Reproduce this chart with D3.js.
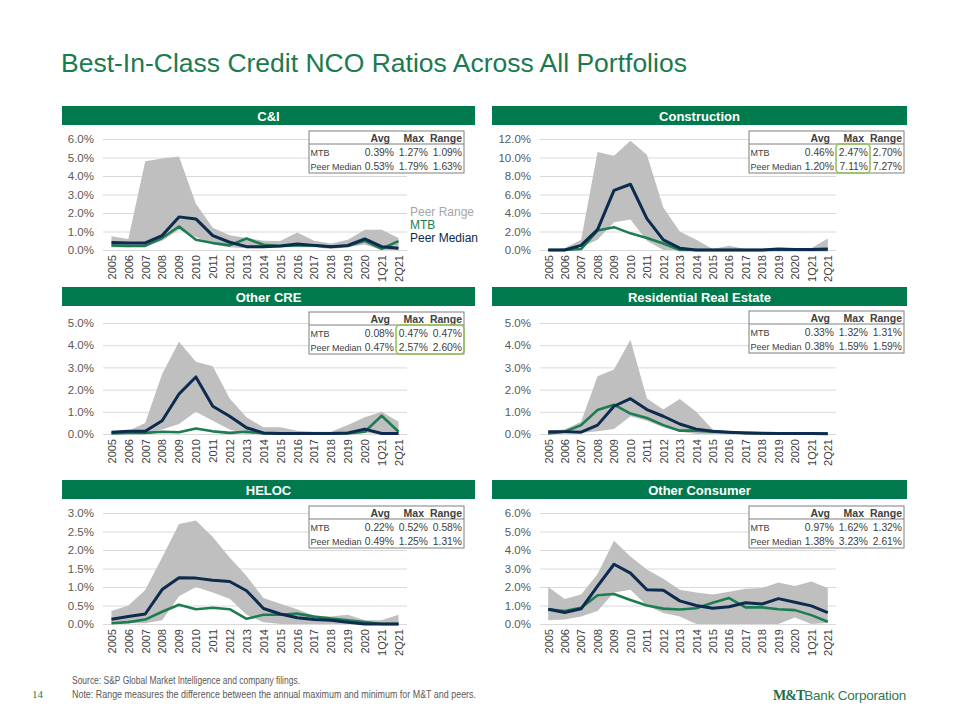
<!doctype html>
<html>
<head>
<meta charset="utf-8"/>
<title>Best-In-Class Credit NCO Ratios</title>
<script src="https://d3js.org/d3.v7.min.js"></script>
<style>
  body { margin:0; background:#fff; }
  svg { font-family: "Liberation Sans", Arial, sans-serif; }
</style>
</head>
<body>
<script>
// categories (x axis)
const cats = ['2005','2006','2007','2008','2009','2010','2011','2012','2013','2014','2015','2016','2017','2018','2019','2020','1Q21','2Q21'];

// C&I
const ciTop  = [0.75,0.6,4.8,4.95,5.05,2.5,1.2,0.8,0.65,0.5,0.48,0.95,0.5,0.35,0.55,1.1,1.1,0.65];
const ciBot  = [0.15,0.15,0.2,0.5,1.1,0.7,0.3,0.15,0.1,0.1,0.15,0.15,0.15,0.05,0.15,0.3,0.0,0.0];
const ciMtb  = [0.25,0.22,0.22,0.65,1.27,0.55,0.38,0.25,0.62,0.28,0.22,0.25,0.25,0.18,0.22,0.5,0.07,0.48];
const ciPeer = [0.4,0.38,0.38,0.78,1.79,1.68,0.78,0.42,0.18,0.18,0.22,0.32,0.25,0.18,0.25,0.6,0.18,0.1];
// Construction
const conTop  = [0.0,0.2,1.1,10.6,10.2,11.8,10.3,4.6,2.0,1.1,0.1,0.45,0.1,0.05,0.1,0.05,0.2,1.25];
const conBot  = [0,0,0.3,1.1,3.0,3.3,1.0,0,0,0,0,0,0,0,0,0,0,0];
const conMtb  = [0,0,0.1,2.1,2.47,1.8,1.3,0.7,0,0,0,0,0,0,0,0,0,0];
const conPeer = [0,0,0.5,2.2,6.45,7.11,3.4,1.1,0.2,0,0,0,0,0,0.1,0.05,0.05,0.1];
// Other CRE
const creTop  = [0.1,0.15,0.5,2.7,4.15,3.25,3.05,1.6,0.75,0.3,0.3,0.15,0.1,0.1,0.4,0.75,1.0,0.55];
const creBot  = [0,0,0.05,0.2,0.45,1.0,0.6,0.2,0,0,0,0,0,0,0,0.05,0,0];
const creMtb  = [0.02,0.05,0.05,0.1,0.08,0.25,0.12,0.05,0.1,0.02,0.02,0.02,0.02,0.02,0.02,0.1,0.82,0.1];
const crePeer = [0.08,0.12,0.12,0.6,1.8,2.57,1.25,0.8,0.28,0.05,0.02,0.02,0.02,0.02,0.05,0.22,0.02,0.02];
// Residential Real Estate
const resTop  = [0.15,0.2,0.55,2.6,2.9,4.25,1.6,1.1,1.58,1.0,0.2,0.12,0.05,0.03,0.02,0.02,0.02,0.02];
const resBot  = [0,0.05,0.05,0.12,0.22,0.8,0.6,0.3,0.1,0,0,0,0,0,0,0,0,0];
const resMtb  = [0.02,0.1,0.4,1.08,1.32,0.92,0.72,0.4,0.15,0.15,0.1,0.08,0.05,0.03,0.02,0.02,0.02,0.02];
const resPeer = [0.1,0.1,0.08,0.4,1.25,1.59,1.1,0.8,0.45,0.22,0.12,0.08,0.05,0.03,0.02,0.02,0.02,0.01];
// HELOC
const helTop  = [0.35,0.5,0.92,1.8,2.7,2.8,2.35,1.8,1.3,0.7,0.55,0.4,0.22,0.2,0.25,0.1,0.1,0.25];
const helBot  = [0.02,0.02,0.02,0.1,0.75,1.0,0.85,0.68,0.25,0.05,0,0,0,0,0,0,0,0];
const helMtb  = [0.02,0.05,0.12,0.33,0.52,0.4,0.44,0.4,0.14,0.25,0.25,0.28,0.2,0.15,0.1,0.05,0,0];
const helPeer = [0.13,0.2,0.27,0.93,1.25,1.24,1.18,1.15,0.9,0.42,0.27,0.17,0.12,0.1,0.05,0,0,0];
// Other Consumer
const ocTop  = [2.0,1.35,1.6,2.7,4.5,3.65,2.95,2.45,1.85,1.7,1.6,1.75,1.9,1.95,2.25,2.05,2.3,1.95];
const ocBot  = [0.2,0.25,0.4,0.7,1.7,1.85,1.0,0.6,0.4,0,0,0,0,0,0,0.35,0,0.05];
const ocMtb  = [0.8,0.7,0.88,1.55,1.62,1.3,1.0,0.83,0.78,0.85,1.15,1.4,0.9,0.9,0.8,0.75,0.48,0.12];
const ocPeer = [0.8,0.62,0.82,2.05,3.23,2.75,1.85,1.82,1.25,1.0,0.85,0.93,1.15,1.08,1.37,1.18,0.98,0.62];

// summary tables: [label, avg, max, range]
const tblHead = ['', 'Avg', 'Max', 'Range'];
const ciTbl  = [['MTB','0.39%','1.27%','1.09%'],['Peer Median','0.53%','1.79%','1.63%']];
const conTbl = [['MTB','0.46%','2.47%','2.70%'],['Peer Median','1.20%','7.11%','7.27%']];
const creTbl = [['MTB','0.08%','0.47%','0.47%'],['Peer Median','0.47%','2.57%','2.60%']];
const resTbl = [['MTB','0.33%','1.32%','1.31%'],['Peer Median','0.38%','1.59%','1.59%']];
const helTbl = [['MTB','0.22%','0.52%','0.58%'],['Peer Median','0.49%','1.25%','1.31%']];
const ocTbl  = [['MTB','0.97%','1.62%','1.32%'],['Peer Median','1.38%','3.23%','2.61%']];

const GREEN = '#007a4d', MTBC = '#1d7d52', NAVY = '#0c2b4e', RANGE = '#bfbfbf';

// layout per panel
const cols = [
  {hx0:62,  hx1:475, px0:103, px1:407, tx:309},
  {hx0:492, hx1:907, px0:540, px1:836, tx:749}
];
const panels = [
  {name:'C&I', col:0, hy:106, top:139, bot:250, max:6, step:1, ty:131,
   top_:ciTop, bot_:ciBot, mtb:ciMtb, peer:ciPeer, tbl:ciTbl, hl:null, legend:true},
  {name:'Construction', col:1, hy:106, top:139, bot:250, max:12, step:2, ty:131,
   top_:conTop, bot_:conBot, mtb:conMtb, peer:conPeer, tbl:conTbl, hl:[2,2]},
  {name:'Other CRE', col:0, hy:287, top:323, bot:434, max:5, step:1, ty:312,
   top_:creTop, bot_:creBot, mtb:creMtb, peer:crePeer, tbl:creTbl, hl:[2,3]},
  {name:'Residential Real Estate', col:1, hy:287, top:323, bot:434, max:5, step:1, ty:311,
   top_:resTop, bot_:resBot, mtb:resMtb, peer:resPeer, tbl:resTbl, hl:null},
  {name:'HELOC', col:0, hy:480, top:513, bot:624, max:3, step:0.5, ty:506,
   top_:helTop, bot_:helBot, mtb:helMtb, peer:helPeer, tbl:helTbl, hl:null},
  {name:'Other Consumer', col:1, hy:480, top:513, bot:624, max:6, step:1, ty:506,
   top_:ocTop, bot_:ocBot, mtb:ocMtb, peer:ocPeer, tbl:ocTbl, hl:null}
];

const svg = d3.select('body').append('svg').attr('width',960).attr('height',720);

svg.append('text').attr('x',61).attr('y',72)
  .attr('font-size',26.5).attr('fill','#1b7a4e')
  .text('Best-In-Class Credit NCO Ratios Across All Portfolios');

const fmt = d3.format('.1%');
// column right edges in table (relative to table x)
const colRight = [null, 85, 119, 153];
const colHeadRight = [null, 81, 115, 153];

panels.forEach(p => {
  const c = cols[p.col];
  const g = svg.append('g');

  // header bar
  g.append('rect').attr('x',c.hx0).attr('y',p.hy).attr('width',c.hx1-c.hx0).attr('height',19)
    .attr('fill',GREEN);
  g.append('text').attr('x',(c.hx0+c.hx1)/2).attr('y',p.hy+14.5)
    .attr('text-anchor','middle').attr('font-size',13).attr('font-weight','bold')
    .attr('fill','#fff').text(p.name);

  const x = d3.scalePoint().domain(cats).range([c.px0, c.px1]).padding(0.5);
  const y = d3.scaleLinear().domain([0, p.max]).range([p.bot, p.top]);

  // y axis + gridlines
  const ticks = d3.range(0, p.max + p.step/2, p.step);
  const ya = g.append('g').attr('transform',`translate(${c.px0},0)`)
    .call(d3.axisLeft(y).tickValues(ticks).tickSize(-(c.px1-c.px0)).tickPadding(9)
      .tickFormat(d => fmt(d/100)));
  ya.select('.domain').remove();
  ya.selectAll('line').attr('stroke','#d9d9d9');
  ya.selectAll('text').attr('font-size',11.5).attr('fill','#595959')
    .attr('font-family','"Liberation Sans", Arial, sans-serif');

  // x axis labels
  const xa = g.append('g').attr('transform',`translate(0,${p.bot})`)
    .call(d3.axisBottom(x).tickSize(0).tickPadding(0));
  xa.select('.domain').remove();
  xa.selectAll('text')
    .attr('font-size',11).attr('fill','#404040')
    .attr('font-family','"Liberation Sans", Arial, sans-serif')
    .attr('transform','rotate(-90)')
    .attr('text-anchor','end')
    .attr('x',-5).attr('y',0).attr('dy','0.35em');

  // peer range area
  const idx = d3.range(cats.length);
  g.append('path').datum(idx)
    .attr('fill',RANGE)
    .attr('d', d3.area().x(i => x(cats[i])).y0(i => y(p.bot_[i])).y1(i => y(p.top_[i])));

  const line = arr => d3.line().x((d,i) => x(cats[i])).y(d => y(d))(arr);
  g.append('path').attr('d', line(p.mtb)).attr('fill','none')
    .attr('stroke',MTBC).attr('stroke-width',2.6).attr('stroke-linejoin','round');
  g.append('path').attr('d', line(p.peer)).attr('fill','none')
    .attr('stroke',NAVY).attr('stroke-width',3).attr('stroke-linejoin','round');

  // summary table
  const tx = c.tx, ty = p.ty, tw = 155;
  const tg = g.append('g');
  tg.append('rect').attr('x',tx).attr('y',ty).attr('width',tw).attr('height',42)
    .attr('fill','#fff').attr('stroke','#7f7f7f').attr('stroke-width',1);
  tg.append('line').attr('x1',tx).attr('x2',tx+tw).attr('y1',ty+13).attr('y2',ty+13)
    .attr('stroke','#7f7f7f');
  tblHead.forEach((h,j) => {
    if (!h) return;
    tg.append('text').attr('x',tx+colHeadRight[j]).attr('y',ty+10.5)
      .attr('text-anchor','end').attr('font-size',10.5).attr('font-weight','bold')
      .attr('fill','#404040').text(h);
  });
  p.tbl.forEach((row,r) => {
    const by = ty + 24.5 + r*14;
    row.forEach((v,j) => {
      tg.append('text')
        .attr('x', j === 0 ? tx+1.5 : tx+colRight[j]).attr('y',by)
        .attr('text-anchor', j === 0 ? 'start' : 'end')
        .attr('font-size', j === 0 ? 9 : 10.3).attr('fill','#404040').text(v);
    });
  });
  if (p.hl) {
    const l = tx + colRight[p.hl[0]] - 32, r = tx + colRight[p.hl[1]] + 2;
    tg.append('rect').attr('x',l).attr('y',ty+13).attr('width',r-l).attr('height',29)
      .attr('rx',4).attr('fill','none').attr('stroke','#92c45a').attr('stroke-width',1.6);
  }

  if (p.legend) {
    const lg = [['Peer Range','#a6a6a6'],['MTB',MTBC],['Peer Median',NAVY]];
    lg.forEach((d,i) => {
      g.append('text').attr('x',410).attr('y',216 + i*13)
        .attr('font-size',12).attr('fill',d[1]).text(d[0]);
    });
  }
});

// footer
const ft = svg.append('g').attr('font-size',10).attr('fill','#595959');
ft.append('text').attr('x',72).attr('y',684)
  .attr('textLength',228).attr('lengthAdjust','spacingAndGlyphs')
  .text('Source: S&P Global Market Intelligence and company filings.');
ft.append('text').attr('x',72).attr('y',698)
  .attr('textLength',404).attr('lengthAdjust','spacingAndGlyphs')
  .text('Note: Range measures the difference between the annual maximum and minimum for M&T and peers.');
ft.append('text').attr('x',32).attr('y',698).attr('font-size',11)
  .attr('font-family','"Liberation Serif", serif').attr('fill','#2a7a52').text('14');

// company logo as one text run
const logo = svg.append('text').attr('x',773).attr('y',700).attr('fill','#2a7a52');
logo.append('tspan')
  .attr('font-family','"Liberation Serif", "DejaVu Serif", serif')
  .attr('font-weight','bold').attr('font-size',14).attr('letter-spacing',-1)
  .attr('fill','#1a6e47').text('M&T');
logo.append('tspan').attr('font-size',13.5).attr('letter-spacing',-0.2)
  .text('Bank Corporation');
</script>
</body>
</html>
